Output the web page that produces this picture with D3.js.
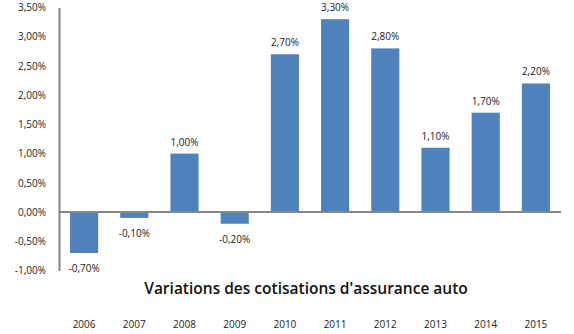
<!DOCTYPE html>
<html><head><meta charset="utf-8">
<script src="https://cdn.jsdelivr.net/npm/d3@7"></script>
<style>body{margin:0;background:#fff}svg{display:block}</style>
</head><body>
<script>
const years = ["2006","2007","2008","2009","2010","2011","2012","2013","2014","2015"];
const values = [-0.7,-0.1,1.0,-0.2,2.7,3.3,2.8,1.1,1.7,2.2];
const yTicks = [-1,-0.5,0,0.5,1,1.5,2,2.5,3,3.5];
const title = "Variations des cotisations d'assurance auto";

const W=574,H=334;
const svg=d3.select("body").append("svg").attr("width",W).attr("height",H);
const fmt=v=>v.toFixed(2).replace(".",",")+"%";
const x=d3.scaleBand().domain(years).range([59,561]).paddingInner(0.44).paddingOuter(0.22);
const y=d3.scaleLinear().domain([-1,3.5]).range([270.5,7.5]);
const font="'Open Sans', 'DejaVu Sans', sans-serif";

// bars
svg.selectAll("rect.bar").data(values).enter().append("rect")
  .attr("x",(d,i)=>x(years[i])).attr("width",x.bandwidth())
  .attr("y",d=>y(Math.max(0,d))).attr("height",d=>Math.abs(y(d)-y(0)))
  .attr("fill","#4F81BD");

// zero line
svg.append("line").attr("x1",59).attr("x2",561).attr("y1",y(0)).attr("y2",y(0))
  .attr("stroke","#868686").attr("stroke-width",2);
// y axis
const ya=d3.axisLeft(y).tickValues(yTicks).tickFormat(fmt).tickSize(0).tickPadding(13);
const g=svg.append("g").attr("transform","translate(59,0)").call(ya);
g.select(".domain").attr("stroke","#868686").attr("stroke-width",2);
g.selectAll("text").attr("font-family",font).attr("font-size",10).attr("fill","#222");

// data labels
svg.selectAll("text.lbl").data(values).enter().append("text")
  .attr("x",(d,i)=>x(years[i])+x.bandwidth()/2)
  .attr("y",d=>d>=0?y(d)-8:y(d)+19)
  .attr("text-anchor","middle").attr("font-family",font).attr("font-size",10).attr("fill","#222")
  .text(d=>fmt(d));

// title
svg.append("text").attr("x",306).attr("y",294).attr("text-anchor","middle")
  .attr("font-family",font).attr("font-size",15.5).attr("font-weight",600).attr("fill","#111").text(title);

// x labels
svg.selectAll("text.yr").data(years).enter().append("text")
  .attr("x",d=>x(d)+x.bandwidth()/2).attr("y",328)
  .attr("text-anchor","middle").attr("font-family",font).attr("font-size",10).attr("fill","#222")
  .text(d=>d);
</script>
</body></html>
